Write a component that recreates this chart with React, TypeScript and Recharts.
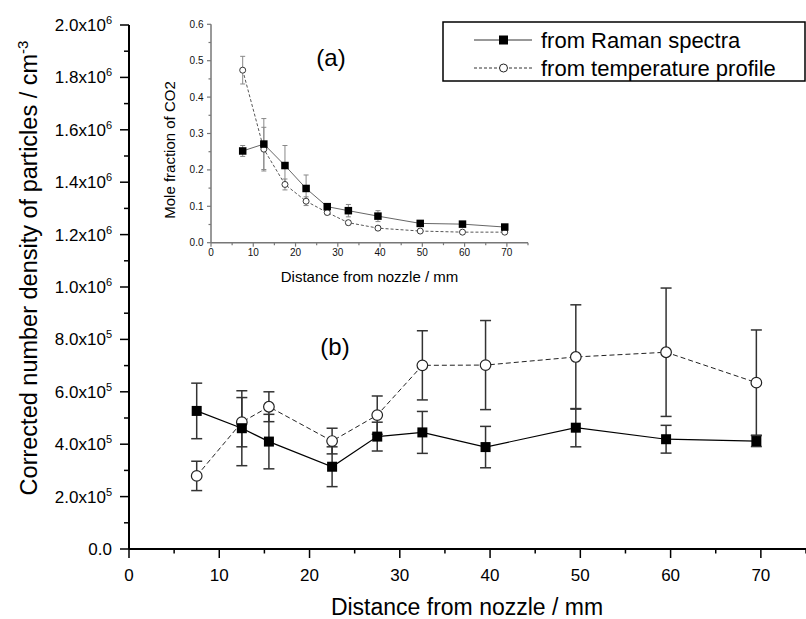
import React from 'react';
import { ComposedChart, Line, XAxis, YAxis, ErrorBar } from 'recharts';

// ---------- data: main panel (b) ----------
const mainX = [7.5, 12.5, 15.5, 22.5, 27.5, 32.5, 39.5, 49.5, 59.5, 69.5];
const mainRaman = [5.27e5, 4.61e5, 4.1e5, 3.14e5, 4.29e5, 4.45e5, 3.89e5, 4.63e5, 4.19e5, 4.12e5];
const mainRamanErr = [1.06e5, 1.43e5, 1.04e5, 0.76e5, 0.55e5, 0.8e5, 0.79e5, 0.73e5, 0.53e5, 0.21e5];
const mainTemp = [2.79e5, 4.84e5, 5.43e5, 4.12e5, 5.11e5, 7.01e5, 7.02e5, 7.33e5, 7.51e5, 6.35e5];
const mainTempErr = [0.56e5, 0.94e5, 0.57e5, 0.49e5, 0.73e5, 1.32e5, 1.7e5, 1.99e5, 2.45e5, 2.01e5];

// ---------- data: inset panel (a) ----------
const insetX = [7.5, 12.5, 17.5, 22.5, 27.5, 32.5, 39.5, 49.5, 59.5, 69.5];
const insetRaman = [0.252, 0.271, 0.212, 0.149, 0.099, 0.088, 0.073, 0.053, 0.051, 0.043];
const insetRamanErr = [0.015, 0.07, 0.055, 0.037, 0.008, 0.017, 0.015, 0.005, 0.005, 0.004];
const insetTemp = [0.474, 0.257, 0.16, 0.114, 0.083, 0.055, 0.04, 0.032, 0.029, 0.029];
const insetTempErr = [0.038, 0.06, 0.015, 0.012, 0.006, 0.006, 0.005, 0.004, 0.003, 0.003];

// ---------- ticks ----------
const mainXTicks = [0, 5, 10, 15, 20, 25, 30, 35, 40, 45, 50, 55, 60, 65, 70, 75];
const mainYTicks = [0, 1e5, 2e5, 3e5, 4e5, 5e5, 6e5, 7e5, 8e5, 9e5, 1e6, 1.1e6, 1.2e6, 1.3e6, 1.4e6, 1.5e6, 1.6e6, 1.7e6, 1.8e6, 1.9e6, 2e6];
const insetXTicks = [0, 5, 10, 15, 20, 25, 30, 35, 40, 45, 50, 55, 60, 65, 70, 75];
const insetYTicks = [0, 0.05, 0.1, 0.15, 0.2, 0.25, 0.3, 0.35, 0.4, 0.45, 0.5, 0.55, 0.6];

const legendLabels = ['from Raman spectra', 'from temperature profile'];
const xTitle = 'Distance from nozzle / mm';
const yTitle = 'Corrected number density of particles / cm';
const insetYTitle = 'Mole fraction of  CO2';

const FONT = "'Liberation Sans', Arial, Helvetica, sans-serif";

const mainData = mainX.map((x, i) => ({
  x,
  raman: mainRaman[i],
  ramanErr: mainRamanErr[i],
  temp: mainTemp[i],
  tempErr: mainTempErr[i],
}));

const insetData = insetX.map((x, i) => ({
  x,
  raman: insetRaman[i],
  ramanErr: insetRamanErr[i],
  temp: insetTemp[i],
  tempErr: insetTempErr[i],
}));

const squareDot = (size: number) => (props: any) => {
  const { cx, cy, index } = props;
  if (cx == null || cy == null) return <g key={`sq-${index}`} />;
  return <rect key={`sq-${index}`} x={cx - size / 2} y={cy - size / 2} width={size} height={size} fill="#000" />;
};

const circleDot = (r: number, sw: number) => (props: any) => {
  const { cx, cy, index } = props;
  if (cx == null || cy == null) return <g key={`ci-${index}`} />;
  return <circle key={`ci-${index}`} cx={cx} cy={cy} r={r} fill="#fff" stroke="#222" strokeWidth={sw} />;
};

function MainXTick(props: any) {
  const { x, y, payload } = props;
  const v = payload.value;
  const major = v % 10 === 0;
  return (
    <g>
      <line x1={x} x2={x} y1={y} y2={y + (major ? 9 : 4.5)} stroke="#000" strokeWidth={1.5} />
      {major && (
        <text x={x} y={581} textAnchor="middle" fontSize={17} fontFamily={FONT} fill="#000">
          {v}
        </text>
      )}
    </g>
  );
}

function MainYTick(props: any) {
  const { x, y, payload } = props;
  const v = payload.value;
  const major = Math.round(v / 1e5) % 2 === 0;
  let label: any = null;
  if (major) {
    if (v === 0) {
      label = (
        <text x={x - 17} y={y + 6} textAnchor="end" fontSize={17} fontFamily={FONT} fill="#000">
          0.0
        </text>
      );
    } else {
      const exp = v >= 1e6 ? 6 : 5;
      const mant = (v / Math.pow(10, exp)).toFixed(1);
      label = (
        <text x={x - 17} y={y + 6} textAnchor="end" fontSize={17} fontFamily={FONT} fill="#000">
          {mant}x10
          <tspan dy={-7} fontSize={11}>
            {exp}
          </tspan>
        </text>
      );
    }
  }
  return (
    <g>
      <line x1={x - (major ? 9 : 5)} x2={x} y1={y} y2={y} stroke="#000" strokeWidth={1.5} />
      {label}
    </g>
  );
}

function InsetXTick(props: any) {
  const { x, y, payload } = props;
  const v = payload.value;
  const major = v % 10 === 0;
  return (
    <g>
      <line x1={x} x2={x} y1={y} y2={y + (major ? 4 : 2.5)} stroke="#777" strokeWidth={1.2} />
      {major && (
        <text x={x} y={y + 13} textAnchor="middle" fontSize={10} fontFamily={FONT} fill="#111">
          {v}
        </text>
      )}
    </g>
  );
}

function InsetYTick(props: any) {
  const { x, y, payload } = props;
  const v = payload.value;
  const major = Math.round(v * 100) % 10 === 0;
  return (
    <g>
      <line x1={x - (major ? 4 : 2.5)} x2={x} y1={y} y2={y} stroke="#777" strokeWidth={1.2} />
      {major && (
        <text x={x - 7.5} y={y + 3.5} textAnchor="end" fontSize={10} fontFamily={FONT} fill="#111">
          {v.toFixed(1)}
        </text>
      )}
    </g>
  );
}

export default function App() {
  return (
    <div style={{ position: 'absolute', left: 0, top: 0, width: 806, height: 619, overflow: 'hidden', background: '#fff', fontFamily: FONT }}>
      {/* main chart (b) */}
      <div style={{ position: 'absolute', left: 0, top: 0 }}>
        <ComposedChart width={806} height={619} data={mainData} margin={{ top: 25, right: 0, bottom: 40, left: 69 }}>
          <XAxis
            type="number"
            dataKey="x"
            domain={[0, 75]}
            ticks={mainXTicks}
            interval={0}
            tick={(p: any) => <MainXTick {...p} />}
            tickLine={false}
            tickSize={0}
            tickMargin={0}
            height={30}
            axisLine={{ stroke: '#000', strokeWidth: 2 }}
            allowDataOverflow
          />
          <YAxis
            type="number"
            domain={[0, 2e6]}
            ticks={mainYTicks}
            interval={0}
            tick={(p: any) => <MainYTick {...p} />}
            tickLine={false}
            tickSize={0}
            tickMargin={0}
            width={60}
            axisLine={{ stroke: '#000', strokeWidth: 2 }}
            allowDataOverflow
          />
          <Line
            dataKey="temp"
            stroke="#222"
            strokeWidth={1}
            strokeDasharray="5 3"
            isAnimationActive={false}
            dot={circleDot(5.3, 1.2)}
            activeDot={false}
          >
            <ErrorBar dataKey="tempErr" width={5.5} stroke="#333" strokeWidth={1.5} direction="y" />
          </Line>
          <Line
            dataKey="raman"
            stroke="#000"
            strokeWidth={1.2}
            isAnimationActive={false}
            dot={squareDot(10)}
            activeDot={false}
          >
            <ErrorBar dataKey="ramanErr" width={5.5} stroke="#333" strokeWidth={1.5} direction="y" />
          </Line>
        </ComposedChart>
      </div>

      {/* inset chart (a) */}
      <div style={{ position: 'absolute', left: 150, top: 0 }}>
        <ComposedChart width={400} height={290} data={insetData} margin={{ top: 24.3, right: 22, bottom: 17.3, left: 31 }}>
          <XAxis
            type="number"
            dataKey="x"
            domain={[0, 75]}
            ticks={insetXTicks}
            interval={0}
            tick={(p: any) => <InsetXTick {...p} />}
            tickLine={false}
            tickSize={0}
            tickMargin={0}
            height={30}
            axisLine={{ stroke: '#777', strokeWidth: 1.5 }}
          />
          <YAxis
            type="number"
            domain={[0, 0.6]}
            ticks={insetYTicks}
            interval={0}
            tick={(p: any) => <InsetYTick {...p} />}
            tickLine={false}
            tickSize={0}
            tickMargin={0}
            width={30}
            axisLine={{ stroke: '#777', strokeWidth: 1.5 }}
          />
          <Line
            dataKey="temp"
            stroke="#444"
            strokeWidth={0.9}
            strokeDasharray="3 2"
            isAnimationActive={false}
            dot={circleDot(3, 0.9)}
            activeDot={false}
          >
            <ErrorBar dataKey="tempErr" width={2.5} stroke="#888" strokeWidth={1} direction="y" />
          </Line>
          <Line
            dataKey="raman"
            stroke="#555"
            strokeWidth={0.9}
            isAnimationActive={false}
            dot={squareDot(7.5)}
            activeDot={false}
          >
            <ErrorBar dataKey="ramanErr" width={2.5} stroke="#888" strokeWidth={1} direction="y" />
          </Line>
        </ComposedChart>
      </div>

      {/* titles, annotations and legend */}
      <svg width={806} height={619} style={{ position: 'absolute', left: 0, top: 0, pointerEvents: 'none' }} fontFamily={FONT}>
        <text x={37} y={268} transform="rotate(-90 37 268)" textAnchor="middle" fontSize={23.5} fill="#000">
          {yTitle}
          <tspan dy={-9} fontSize={15}>
            -3
          </tspan>
        </text>
        <text x={467} y={615} textAnchor="middle" fontSize={23} fill="#000">
          {xTitle}
        </text>
        <text x={175} y={150} transform="rotate(-90 175 150)" textAnchor="middle" fontSize={15} fill="#000">
          {insetYTitle}
        </text>
        <text x={369.5} y={282} textAnchor="middle" fontSize={15} fill="#000">
          {xTitle}
        </text>
        <text x={331} y={66} textAnchor="middle" fontSize={24} fill="#000">
          (a)
        </text>
        <text x={335} y={355} textAnchor="middle" fontSize={24} fill="#000">
          (b)
        </text>

        <rect x={443} y={22} width={362} height={59} fill="#fff" stroke="#000" strokeWidth={1.5} />
        <line x1={474} x2={532} y1={40} y2={40} stroke="#333" strokeWidth={1} />
        <rect x={499} y={35.5} width={9} height={9} fill="#000" />
        <text x={541} y={48} fontSize={22} fill="#000">
          {legendLabels[0]}
        </text>
        <line x1={474} x2={532} y1={68} y2={68} stroke="#333" strokeWidth={1} strokeDasharray="3 2" />
        <circle cx={503.5} cy={68} r={4} fill="#fff" stroke="#222" strokeWidth={1} />
        <text x={541} y={76} fontSize={22} fill="#000">
          {legendLabels[1]}
        </text>
      </svg>
    </div>
  );
}
